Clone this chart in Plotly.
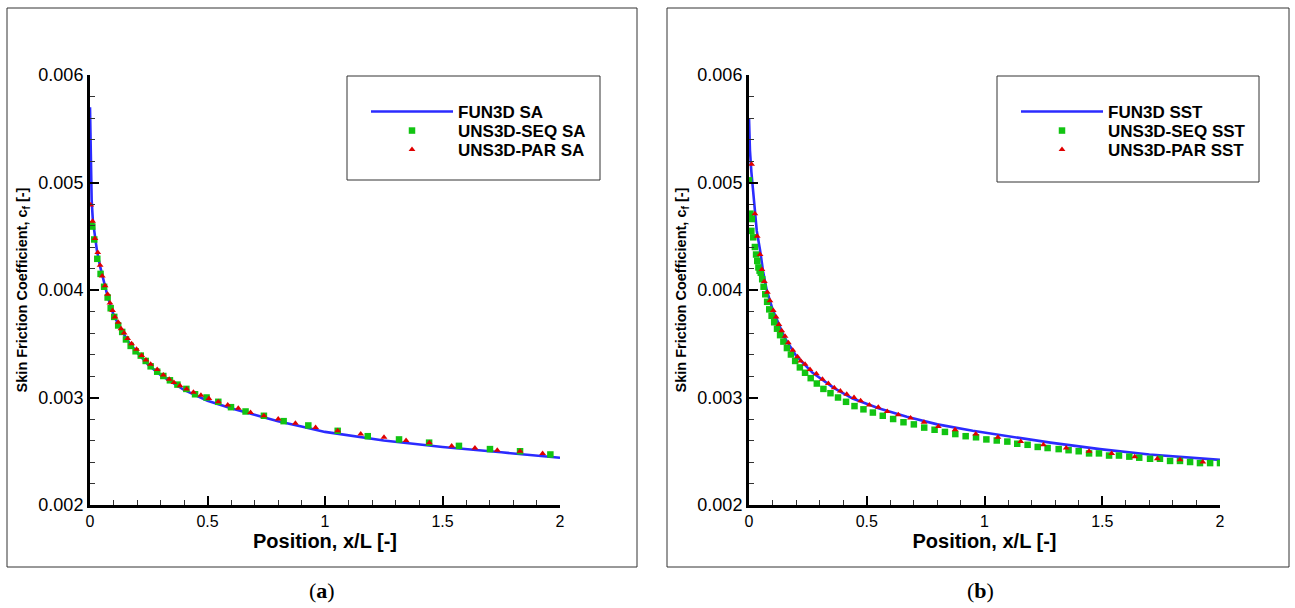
import plotly.graph_objects as go

# ---------------- data ----------------
# (a) Spalart-Allmaras
fun3d_sa_x = [0.0, 0.002, 0.004, 0.007, 0.012, 0.02, 0.03, 0.043, 0.055, 0.075, 0.1, 0.13,
              0.16, 0.2, 0.25, 0.3, 0.35, 0.4, 0.5, 0.6, 0.7, 0.8, 0.9, 1.0, 1.25, 1.5, 1.75, 2.0]
fun3d_sa_cf = [0.0057, 0.0053, 0.0050, 0.00484, 0.00465, 0.0045, 0.00436, 0.00422, 0.00411,
               0.00394, 0.00377, 0.00364, 0.00353, 0.00342, 0.0033, 0.00321, 0.00314, 0.00307,
               0.00297, 0.0029, 0.00284, 0.00278, 0.00273, 0.00268, 0.0026, 0.00254, 0.00249, 0.00244]

seq_sa_x = [0.004, 0.01, 0.018, 0.031, 0.045, 0.06, 0.075, 0.088, 0.103, 0.12, 0.137, 0.153,
            0.173, 0.194, 0.216, 0.237, 0.258, 0.286, 0.312, 0.34, 0.372, 0.41, 0.447, 0.496,
            0.546, 0.6, 0.662, 0.74, 0.824, 0.929, 1.054, 1.182, 1.315, 1.443, 1.57, 1.702,
            1.83, 1.959]
seq_sa_cf = [0.00461, 0.00459, 0.00447, 0.00429, 0.00415, 0.00403, 0.00393, 0.00383, 0.00375,
             0.00367, 0.00361, 0.00354, 0.00348, 0.00343, 0.00339, 0.00334, 0.00329, 0.00324,
             0.0032, 0.00316, 0.00312, 0.00308, 0.00303, 0.003, 0.00296, 0.00291, 0.00287,
             0.00283, 0.00278, 0.00274, 0.00269, 0.00264, 0.00261, 0.00258, 0.00255, 0.00252,
             0.0025, 0.00247]

par_sa_x = [0.003, 0.011, 0.021, 0.033, 0.043, 0.052, 0.064, 0.075, 0.085, 0.096, 0.106, 0.12,
            0.132, 0.145, 0.16, 0.177, 0.198, 0.22, 0.238, 0.258, 0.286, 0.312, 0.337, 0.357,
            0.383, 0.411, 0.44, 0.472, 0.506, 0.546, 0.586, 0.631, 0.683, 0.74, 0.801, 0.874,
            0.96, 1.054, 1.152, 1.251, 1.345, 1.444, 1.539, 1.638, 1.733, 1.83, 1.926]
par_sa_cf = [0.00479, 0.00464, 0.00448, 0.00435, 0.00423, 0.00413, 0.00404, 0.00396, 0.00388,
             0.00381, 0.00375, 0.0037, 0.00364, 0.0036, 0.00355, 0.0035, 0.00345, 0.00339,
             0.00335, 0.00331, 0.00326, 0.00321, 0.00317, 0.00314, 0.00311, 0.00308, 0.00305,
             0.00302, 0.00299, 0.00296, 0.00293, 0.0029, 0.00286, 0.00283, 0.0028, 0.00276,
             0.00272, 0.00269, 0.00266, 0.00263, 0.0026, 0.00258, 0.00255, 0.00253, 0.00251,
             0.0025, 0.00248]

# (b) Menter SST
fun3d_sst_x = [0.0, 0.004, 0.01, 0.018, 0.025, 0.033, 0.047, 0.06, 0.075, 0.1, 0.15, 0.2, 0.27,
               0.36, 0.44, 0.55, 0.67, 0.8, 0.95, 1.07, 1.28, 1.49, 1.7, 2.0]
fun3d_sst_cf = [0.0056, 0.0053, 0.0051, 0.0049, 0.00474, 0.00455, 0.00437, 0.00417, 0.004,
                0.00382, 0.00356, 0.00339, 0.00323, 0.00309, 0.00299, 0.0029, 0.00282, 0.00275,
                0.00269, 0.00265, 0.00258, 0.00252, 0.00247, 0.00242]

seq_sst_x = [0.0, 0.006, 0.012, 0.010, 0.018, 0.025, 0.030, 0.035, 0.040, 0.045, 0.050, 0.056,
             0.062, 0.069, 0.077, 0.086, 0.096, 0.107, 0.119, 0.132, 0.146, 0.161, 0.178, 0.196,
             0.216, 0.238, 0.262, 0.288, 0.316, 0.346, 0.378, 0.412, 0.448, 0.486, 0.526, 0.568,
             0.612, 0.656, 0.700, 0.744, 0.788, 0.832, 0.876, 0.920, 0.964, 1.008, 1.052, 1.097,
             1.139, 1.183, 1.226, 1.268, 1.315, 1.357, 1.4, 1.444, 1.486, 1.529, 1.571, 1.615,
             1.657, 1.703, 1.745, 1.788, 1.83, 1.873, 1.915, 1.958, 2.0]
seq_sst_cf = [0.00502, 0.00471, 0.00466, 0.00455, 0.00449, 0.0044, 0.00433, 0.00427, 0.00421,
              0.00418, 0.00416, 0.0041, 0.00403, 0.00396, 0.00389, 0.00382, 0.00376, 0.0037,
              0.00364, 0.00358, 0.00352, 0.00346, 0.0034, 0.00334, 0.00328, 0.00323, 0.00318,
              0.00313, 0.00308, 0.00304, 0.003, 0.00296, 0.00292, 0.00289, 0.00286, 0.00283,
              0.0028, 0.00277, 0.00275, 0.00272, 0.0027, 0.00268, 0.00266, 0.00264, 0.00263,
              0.00261, 0.0026, 0.00259, 0.00257, 0.00256, 0.00254, 0.00253, 0.00252, 0.00251,
              0.0025, 0.00248, 0.00248, 0.00246, 0.00246, 0.00245, 0.00244, 0.00243, 0.00243,
              0.00241, 0.00241, 0.0024, 0.00239, 0.00239, 0.00239]

par_sst_x = [0.011, 0.025, 0.035, 0.047, 0.055, 0.065, 0.078, 0.089, 0.103, 0.115, 0.127, 0.139,
             0.153, 0.167, 0.186, 0.206, 0.22, 0.238, 0.259, 0.286, 0.312, 0.337, 0.362, 0.388,
             0.415, 0.446, 0.474, 0.511, 0.549, 0.587, 0.634, 0.686, 0.743, 0.804, 0.875, 0.963,
             1.057, 1.154, 1.25, 1.347, 1.444, 1.54, 1.638, 1.734, 1.83, 1.927]
par_sst_cf = [0.00517, 0.00471, 0.0045, 0.00433, 0.00419, 0.00408, 0.00398, 0.0039, 0.00381,
              0.00375, 0.00368, 0.00362, 0.00357, 0.00351, 0.00344, 0.00338, 0.00334, 0.00331,
              0.00326, 0.00322, 0.00317, 0.00313, 0.00309, 0.00306, 0.00303, 0.003, 0.00297,
              0.00293, 0.00291, 0.00287, 0.00284, 0.00281, 0.00277, 0.00273, 0.0027, 0.00266,
              0.00263, 0.00259, 0.00256, 0.00253, 0.0025, 0.00248, 0.00245, 0.00243, 0.00242,
              0.0024]

x_ticks = [0, 0.5, 1, 1.5, 2]
x_tick_text = ["0", "0.5", "1", "1.5", "2"]
y_ticks = [0.002, 0.003, 0.004, 0.005, 0.006]

# ---------------- styling ----------------
W, H = 1295, 608
BLUE = "#2b2bff"
GREEN = "#12c412"
RED = "#e00000"
SANS = "Liberation Sans, Arial, sans-serif"
SERIF = "Liberation Serif, DejaVu Serif, serif"


def px(v):
    return v / W


def py(v):
    return 1 - v / H


fig = go.Figure()
legend_layout = {}
# one legend per entry so the rows can be spaced like a compact key
ROW_Y = [112, 131, 150]


def add_panel(idx, line_x, line_y, seq_x, seq_y, par_x, par_y, model, key_x):
    sfx = "" if idx == 1 else str(idx)
    names = []
    for row in range(3):
        n = 3 * (idx - 1) + row + 1
        name = "legend" if n == 1 else f"legend{n}"
        names.append(name)
        legend_layout[name] = dict(
            x=px(key_x), y=py(ROW_Y[row]), xanchor="left", yanchor="middle",
            bgcolor="rgba(0,0,0,0)", borderwidth=0, itemwidth=82,
            font=dict(family=SANS, size=17, color="black", weight="bold"))
    fig.add_trace(go.Scatter(x=line_x, y=line_y, mode="lines", name=f"FUN3D {model}",
                             line=dict(color=BLUE, width=2.6), xaxis="x" + sfx, yaxis="y" + sfx,
                             legend=names[0], showlegend=True))
    fig.add_trace(go.Scatter(x=seq_x, y=seq_y, mode="markers", name=f"UNS3D-SEQ {model}",
                             marker=dict(symbol="square", size=6.5, color=GREEN),
                             xaxis="x" + sfx, yaxis="y" + sfx, legend=names[1], showlegend=True))
    fig.add_trace(go.Scatter(x=par_x, y=par_y, mode="markers", name=f"UNS3D-PAR {model}",
                             marker=dict(symbol="triangle-up", size=6, color=RED),
                             xaxis="x" + sfx, yaxis="y" + sfx, legend=names[2], showlegend=True))


add_panel(1, fun3d_sa_x, fun3d_sa_cf, seq_sa_x, seq_sa_cf, par_sa_x, par_sa_cf, "SA", 366)
add_panel(2, fun3d_sst_x, fun3d_sst_cf, seq_sst_x, seq_sst_cf, par_sst_x, par_sst_cf, "SST", 1016)

x_common = dict(range=[0, 2], tickvals=x_ticks, ticktext=x_tick_text, automargin=False,
                ticks="inside", ticklen=9, tickwidth=2, tickcolor="black",
                showline=True, linewidth=3, linecolor="black", mirror=False,
                showgrid=False, zeroline=False,
                tickfont=dict(family=SANS, size=16, color="black"),
                minor=dict(dtick=0.1, tick0=0, ticks="inside", ticklen=5, tickwidth=1,
                           tickcolor="#333", showgrid=False),
                title=dict(text="Position, x/L [-]", standoff=4,
                           font=dict(family=SANS, size=20, color="black", weight="bold")))
y_common = dict(range=[0.002, 0.006], tickvals=y_ticks, tickformat=".3f", automargin=False,
                ticks="inside", ticklen=9, tickwidth=2, tickcolor="black",
                showline=True, linewidth=3, linecolor="black", mirror=False,
                showgrid=False, zeroline=False,
                tickfont=dict(family=SANS, size=18, color="black"),
                minor=dict(dtick=0.0002, tick0=0.002, ticks="inside", ticklen=5, tickwidth=1,
                           tickcolor="#333", showgrid=False),
                title=dict(text="Skin Friction Coefficient, c<sub>f</sub> [-]", standoff=8,
                           font=dict(family=SANS, size=14.5, color="black", weight="bold")))

y_dom = [py(505), py(75)]
fig.update_layout(
    width=W, height=H, margin=dict(l=0, r=0, t=0, b=0, pad=0, autoexpand=False),
    paper_bgcolor="white", plot_bgcolor="white", showlegend=True,
    xaxis=dict(domain=[px(90), px(560)], anchor="y", **x_common),
    yaxis=dict(domain=y_dom, anchor="x", **y_common),
    xaxis2=dict(domain=[px(749), px(1220)], anchor="y2", **x_common),
    yaxis2=dict(domain=y_dom, anchor="x2", **y_common),
    shapes=[
        # outer frames of the two panels
        dict(type="rect", xref="paper", yref="paper", x0=px(7), x1=px(637), y0=py(567), y1=py(8),
             line=dict(color="#333", width=1)),
        dict(type="rect", xref="paper", yref="paper", x0=px(667), x1=px(1289), y0=py(567), y1=py(8),
             line=dict(color="#333", width=1)),
        # key boxes
        dict(type="rect", xref="paper", yref="paper", x0=px(347), x1=px(600), y0=py(180), y1=py(76),
             line=dict(color="#333", width=1)),
        dict(type="rect", xref="paper", yref="paper", x0=px(997), x1=px(1259), y0=py(182), y1=py(76),
             line=dict(color="#333", width=1)),
    ],
    annotations=[
        dict(text="(<b>a</b>)", x=px(322), y=py(590), xref="paper", yref="paper", showarrow=False,
             xanchor="center", yanchor="middle",
             font=dict(family=SERIF, size=22, color="black")),
        dict(text="(<b>b</b>)", x=px(980), y=py(590), xref="paper", yref="paper", showarrow=False,
             xanchor="center", yanchor="middle",
             font=dict(family=SERIF, size=22, color="black")),
    ],
    **legend_layout,
)

# page without the default body margin so the figure fills the window exactly
fig.write_html("out.html", post_script="document.body.style.margin = '0';")
